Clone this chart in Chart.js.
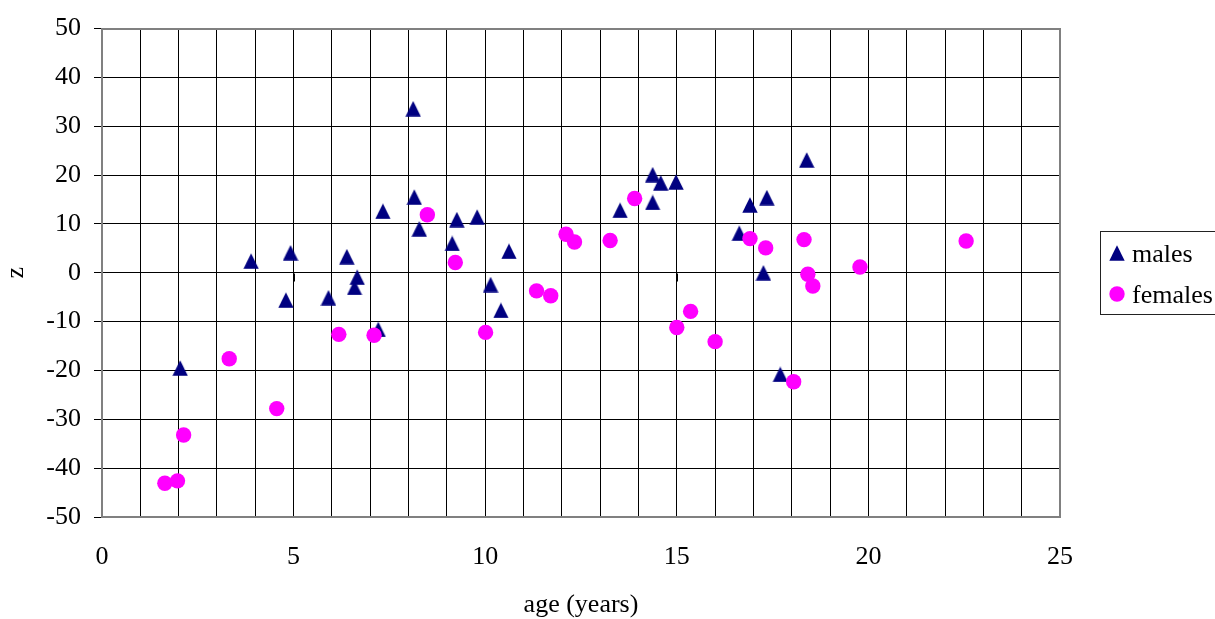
<!DOCTYPE html>
<html>
<head>
<meta charset="utf-8">
<script src="https://cdn.jsdelivr.net/npm/chart.js@4"></script>
<style>
  html, body { margin: 0; padding: 0; background: #ffffff; }
  #wrap { width: 1215px; height: 619px; }
</style>
</head>
<body>
<div id="wrap"><canvas id="c" width="1215" height="619"></canvas></div>
<script>
// ---- data ----
const malesAge = [2.04, 3.89, 4.80, 4.92, 5.91, 6.39, 6.66, 6.59, 7.21, 7.33,
                  8.12, 8.15, 8.28, 9.14, 9.26, 9.79, 10.14, 10.41, 10.62, 13.52,
                  14.37, 14.58, 14.37, 14.98, 16.63, 16.91, 17.35, 17.26, 17.70, 18.39];
const malesZ   = [-19.5, 2.4, -5.6, 4.1, -5.1, 3.3, -0.9, -3.0, -11.6, 12.6,
                  33.6, 15.5, 9.0, 6.0, 10.9, 11.4, -2.4, -7.7, 4.4, 12.8,
                  20.1, 18.4, 14.4, 18.6, 8.1, 13.9, 15.4, 0.0, -20.8, 23.1];
const femalesAge = [1.64, 1.97, 2.13, 3.32, 4.56, 6.18, 7.10, 8.49, 9.22, 10.01,
                    11.34, 11.71, 12.11, 12.33, 13.26, 13.90, 15.00, 15.36, 16.00, 16.91,
                    17.32, 18.05, 18.32, 18.42, 18.55, 19.78, 22.55];
const femalesZ   = [-43.1, -42.6, -33.2, -17.6, -27.8, -12.6, -12.8, 11.9, 2.1, -12.2,
                    -3.7, -4.7, 7.9, 6.3, 6.6, 15.2, -11.2, -7.9, -14.1, 7.0,
                    5.1, -22.3, 6.8, -0.3, -2.7, 1.2, 6.5];
const seriesNames = ['males', 'females'];
const xTickLabels = [0, 5, 10, 15, 20, 25];
const yTickLabels = [-50, -40, -30, -20, -10, 0, 10, 20, 30, 40, 50];
const xTitle = 'age (years)';
const yTitle = 'z';

// ---- styles ----
const FONT = "'Liberation Serif', 'Times New Roman', serif";
const FSIZE = 26;
const NAVY = '#000080';
const MAGENTA = '#FF00FF';

// triangle marker (centered in its box like the original)
const tri = document.createElement('canvas');
tri.width = 16; tri.height = 16;
(function () {
  const t = tri.getContext('2d');
  t.fillStyle = NAVY;
  t.beginPath();
  t.moveTo(8, 0.2);
  t.lineTo(15.7, 15.8);
  t.lineTo(0.3, 15.8);
  t.closePath();
  t.fill();
})();

const toPoints = (xs, ys) => xs.map((v, i) => ({ x: v, y: ys[i] }));

const framePlugin = {
  id: 'frame',
  beforeDatasetsDraw(chart) {
    const { ctx, chartArea: a, scales: { x, y } } = chart;
    ctx.save();
    const y0 = Math.round(y.getPixelForValue(0)) + 0.5;
    ctx.strokeStyle = '#000';
    ctx.lineWidth = 1;
    ctx.beginPath();
    for (const v of xTickLabels) {
      const px = Math.round(x.getPixelForValue(v)) + 0.5;
      ctx.moveTo(px, y0);
      ctx.lineTo(px, y0 + 8);
    }
    ctx.stroke();
    ctx.strokeStyle = '#808080';
    ctx.lineWidth = 2;
    ctx.strokeRect(Math.round(a.left), Math.round(a.top),
                   Math.round(a.right) - Math.round(a.left), Math.round(a.bottom) - Math.round(a.top));
    ctx.restore();
  }
};

const legendPlugin = {
  id: 'sideLegend',
  afterDraw(chart) {
    const ctx = chart.ctx;
    ctx.save();
    ctx.strokeStyle = '#222';
    ctx.lineWidth = 1;
    ctx.strokeRect(1100.5, 231.5, 140, 83);
    ctx.drawImage(tri, 1117 - 8, 253 - 8);
    ctx.fillStyle = MAGENTA;
    ctx.beginPath();
    ctx.arc(1117, 294, 7.7, 0, Math.PI * 2);
    ctx.fill();
    ctx.fillStyle = '#000';
    ctx.font = FSIZE + 'px ' + FONT;
    ctx.textAlign = 'left';
    ctx.textBaseline = 'alphabetic';
    ctx.fillText(seriesNames[0], 1132, 262);
    ctx.fillText(seriesNames[1], 1132, 303);
    ctx.restore();
  }
};

new Chart(document.getElementById('c'), {
  type: 'scatter',
  data: {
    datasets: [
      {
        label: seriesNames[0],
        data: toPoints(malesAge, malesZ),
        pointStyle: tri,
        backgroundColor: NAVY,
        borderColor: NAVY,
        order: 1
      },
      {
        label: seriesNames[1],
        data: toPoints(femalesAge, femalesZ),
        pointStyle: 'circle',
        pointRadius: 7.7,
        borderWidth: 0,
        backgroundColor: MAGENTA,
        borderColor: MAGENTA,
        order: 0
      }
    ]
  },
  options: {
    responsive: false,
    animation: false,
    devicePixelRatio: 1,
    layout: { padding: { top: 28, right: 155, left: 0, bottom: 0 } },
    plugins: {
      legend: { display: false },
      tooltip: { enabled: false }
    },
    scales: {
      x: {
        type: 'linear',
        min: 0, max: 25,
        afterFit(s) { s.height = 102; },
        grid: { color: '#000', lineWidth: 1, drawTicks: false },
        border: { display: false },
        ticks: {
          stepSize: 1,
          autoSkip: false,
          maxRotation: 0,
          padding: 25,
          color: '#000',
          font: { family: FONT, size: FSIZE, lineHeight: 1.2 },
          callback: (v) => (xTickLabels.includes(v) ? String(v) : '')
        },
        title: {
          display: true,
          text: xTitle,
          color: '#000',
          font: { family: FONT, size: FSIZE, lineHeight: 1.2 },
          padding: { top: 0, bottom: -2 }
        }
      },
      y: {
        type: 'linear',
        min: yTickLabels[0], max: yTickLabels[yTickLabels.length - 1],
        afterFit(s) { s.width = 102; },
        grid: { color: '#000', lineWidth: 1, drawTicks: true, tickLength: 8, tickColor: '#000' },
        border: { display: false },
        ticks: {
          stepSize: 10,
          padding: 13,
          color: '#000',
          font: { family: FONT, size: FSIZE, lineHeight: 1.2 },
          callback: (v) => (yTickLabels.includes(v) ? String(v) : '')
        },
        title: {
          display: true,
          text: yTitle,
          color: '#000',
          font: { family: FONT, size: FSIZE, lineHeight: 1.2 },
          padding: { top: 1, bottom: 0 }
        }
      }
    }
  },
  plugins: [framePlugin, legendPlugin]
});
</script>
</body>
</html>
